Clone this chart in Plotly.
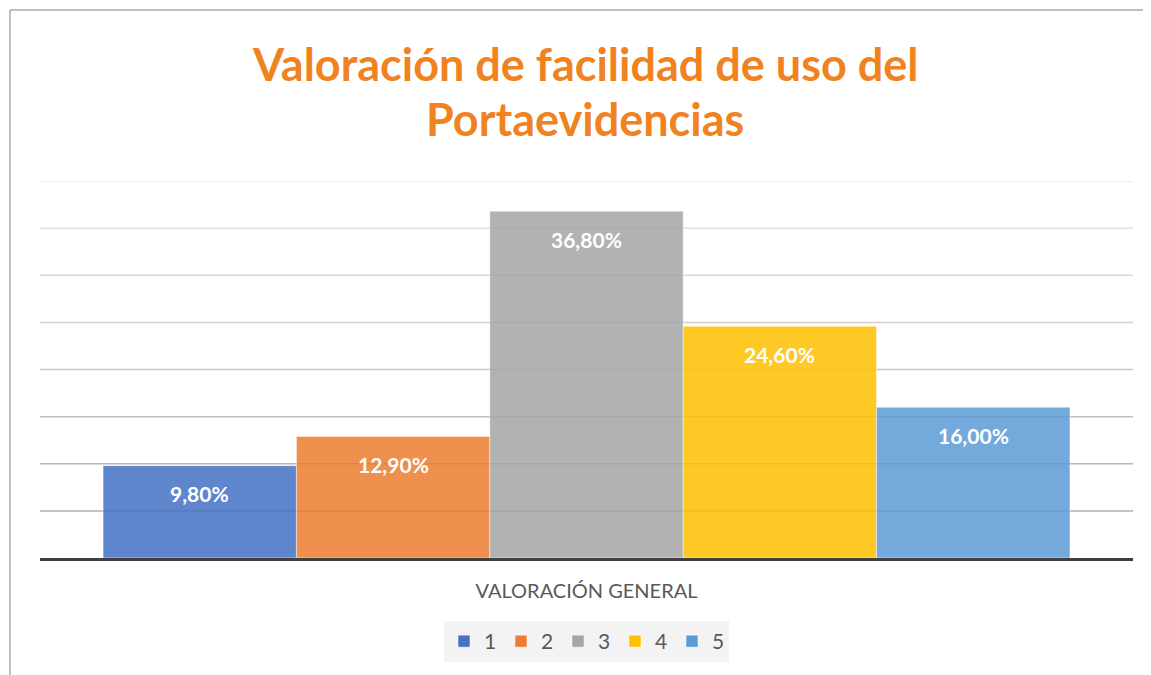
import plotly.graph_objects as go

categories = ["1", "2", "3", "4", "5"]
values = [0.098, 0.129, 0.368, 0.246, 0.160]
labels = ["9,80%", "12,90%", "36,80%", "24,60%", "16,00%"]
colors = ["#4472C4", "#ED7D31", "#A5A5A5", "#FFC000", "#5B9BD5"]
grid_vals = [0.05, 0.10, 0.15, 0.20, 0.25, 0.30, 0.35, 0.40]
grid_colors = ["#b0b0b0", "#b8b8b8", "#c0c0c0", "#c8c8c8", "#d0d0d0", "#d8d8d8", "#e0e0e0", "#e8e8e8"]
title_lines = ["Valoración de facilidad de uso del", "Portaevidencias"]

W, H = 1151, 675
OFF = 8  # page offset of the figure
ML, MR, MT, MB = 40 - OFF, 26, 181 - OFF, 125
pw = W - ML - MR
ph = H - MT - MB


def py(page_y):
    fig_y = page_y - OFF
    return (H - MB - fig_y) / ph


def px(page_x):
    fig_x = page_x - OFF
    return (fig_x - ML) / pw


fig = go.Figure()
for i, (c, v, col) in enumerate(zip(categories, values, colors)):
    fig.add_trace(go.Bar(
        x=[i], y=[v], name=c, width=1.0,
        marker=dict(color=col, opacity=0.85, line=dict(color="rgba(255,255,255,0.5)", width=1)),
        hoverinfo="skip",
    ))
    fig.add_annotation(x=i, y=v, xref="x", yref="y", text="<b>%s</b>" % labels[i],
                       showarrow=False, yanchor="middle", yshift=-28,
                       font=dict(family="Lato", size=21, color="white"))

for gv, gc in zip(grid_vals, grid_colors):
    fig.add_shape(type="line", xref="paper", yref="y", x0=0, x1=1, y0=gv, y1=gv,
                  line=dict(color=gc, width=1.5), layer="below")

for line, pg in zip(title_lines, [64, 119]):
    fig.add_annotation(x=px(585), y=py(pg), xref="paper", yref="paper", text="<b>%s</b>" % line,
                       showarrow=False, xanchor="center", yanchor="middle",
                       font=dict(family="Lato", size=45, color="#F0831F"))

fx0 = px(10)
fy1 = py(10)
fig.add_shape(type="line", xref="paper", yref="paper", x0=fx0, x1=fx0, y0=py(700), y1=fy1,
              line=dict(color="#c0c0c0", width=2))
fig.add_shape(type="line", xref="paper", yref="paper", x0=fx0, x1=px(1170), y0=fy1, y1=fy1,
              line=dict(color="#c0c0c0", width=2))

fig.update_layout(
    width=W, height=H,
    margin=dict(l=ML, r=MR, t=MT, b=MB),
    paper_bgcolor="white", plot_bgcolor="white",
    barmode="overlay",
    showlegend=True,
    xaxis=dict(range=[-0.826, 4.826], showticklabels=False, showgrid=False, zeroline=False,
               showline=True, linecolor="#404040", linewidth=3,
               title=dict(text="VALORACIÓN GENERAL", font=dict(family="Lato", size=20, color="#595959"),
                          standoff=24)),
    yaxis=dict(range=[0, 0.40], showticklabels=False, showgrid=False, zeroline=False, showline=False),
    legend=dict(orientation="h", x=0.5, xanchor="center", y=py(621), yanchor="top",
                bgcolor="#f3f3f3", font=dict(family="Lato", size=21, color="#595959"),
                itemwidth=30, entrywidth=12, entrywidthmode="pixels", tracegroupgap=0),
)

fig.write_html("out.html")
